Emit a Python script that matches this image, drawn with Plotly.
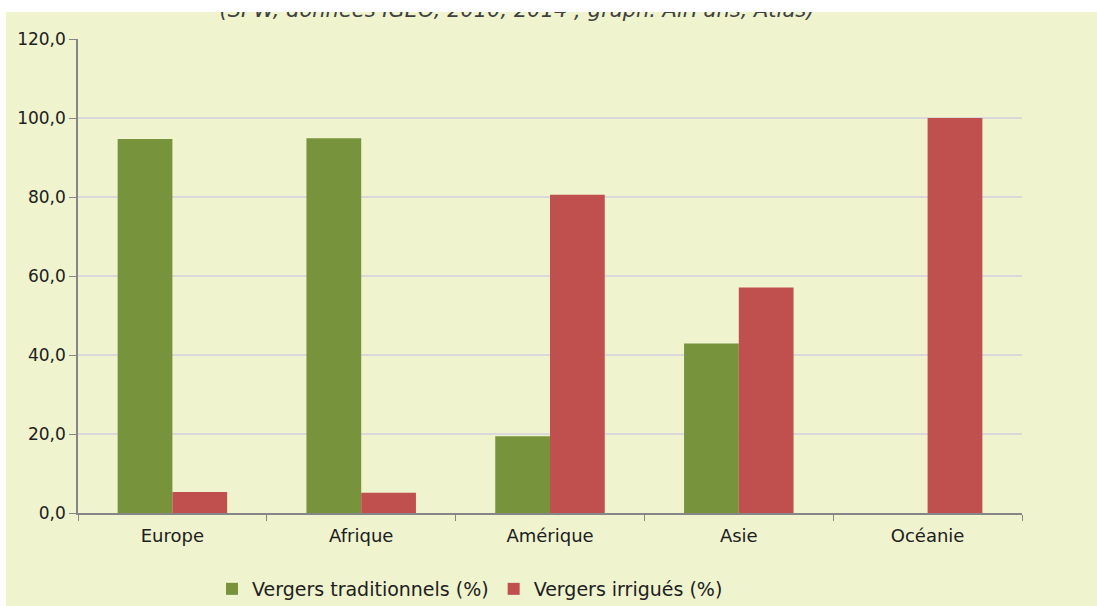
import plotly.graph_objects as go

categories = ["Europe", "Afrique", "Amérique", "Asie", "Océanie"]
traditionnels = [94.7, 94.9, 19.4, 42.9, 0.0]
irrigues = [5.3, 5.1, 80.6, 57.1, 100.0]
series_names = ["Vergers traditionnels (%)", "Vergers irrigués (%)"]
y_ticks = [0, 20, 40, 60, 80, 100, 120]
source_text = "(SPW, données IGEO, 2010, 2014 ; graph. AirFans, Atlas)"

W, H = 1097, 606
ML, MR, MT, MB = 78, 75, 0, 93
PW, PH = W - ML - MR, H - MT - MB
BG = "#EFF3CE"
FONT = "DejaVu Sans"

fig = go.Figure()
fig.add_trace(go.Bar(x=categories, y=traditionnels, name=series_names[0],
                     marker=dict(color="#77933C", line=dict(width=0))))
fig.add_trace(go.Bar(x=categories, y=irrigues, name=series_names[1],
                     marker=dict(color="#C0504D", line=dict(width=0))))

# source line at top, partly hidden by the white strip as in the reference
fig.add_trace(go.Scatter(x=[(517 - ML) / PW], y=[(PH - 11.5) / PH], mode="text",
                         text=[source_text], textposition="middle center",
                         textfont=dict(family=FONT, size=21, color="#404040", style="italic"),
                         xaxis="x2", yaxis="y2", showlegend=False, hoverinfo="skip",
                         cliponaxis=False))

fig.update_layout(
    width=W, height=H,
    margin=dict(l=ML, r=MR, t=MT, b=MB, autoexpand=False),
    paper_bgcolor=BG, plot_bgcolor="rgba(0,0,0,0)",
    separators=", ",
    barmode="group", bargap=0.42, bargroupgap=0,
    font=dict(family=FONT, size=15, color="#404040"),
    hovermode=False,
    xaxis=dict(showline=True, linecolor="#868686", linewidth=1.5,
               ticks="outside", tickson="boundaries", ticklen=6, tickcolor="#868686",
               ticklabelstandoff=6,
               tickfont=dict(size=18, color="#202020"), showgrid=False),
    yaxis=dict(domain=[0, (PH - 39) / PH], range=[0, 120], tickvals=y_ticks,
               tickformat=".1f", showline=True, linecolor="#868686", linewidth=1.5,
               ticks="outside", ticklen=7, tickcolor="#868686",
               gridcolor="#D9D9D9", gridwidth=1.5, zeroline=False,
               tickfont=dict(size=17, color="#202020")),
    xaxis2=dict(anchor="y2", range=[0, 1], visible=False, domain=[0, 1]),
    yaxis2=dict(anchor="x2", range=[0, 1], visible=False, domain=[0, 1]),
    legend=dict(orientation="h", x=(470 - ML) / PW, xanchor="center",
                y=(PH - 589) / PH, yanchor="middle",
                font=dict(size=19, color="#202020"), bgcolor="rgba(0,0,0,0)",
                traceorder="normal"),
    showlegend=True,
    shapes=[
        dict(type="rect", xref="paper", yref="paper", layer="above",
             x0=-ML / PW, x1=(W - ML) / PW, y0=(PH - 12) / PH, y1=1.0,
             fillcolor="white", line=dict(width=0)),
        dict(type="rect", xref="paper", yref="paper", layer="above",
             x0=-ML / PW, x1=(6 - ML) / PW, y0=-MB / PH, y1=1.0,
             fillcolor="white", line=dict(width=0)),
    ],
)

fig.write_html("out.html", config={"displayModeBar": False},
               post_script="document.body.style.margin='0';document.body.style.overflow='hidden';"
                           "document.documentElement.style.overflow='hidden';"
                           f"document.body.style.background='{BG}';"
                           f"document.documentElement.style.background='{BG}';")
